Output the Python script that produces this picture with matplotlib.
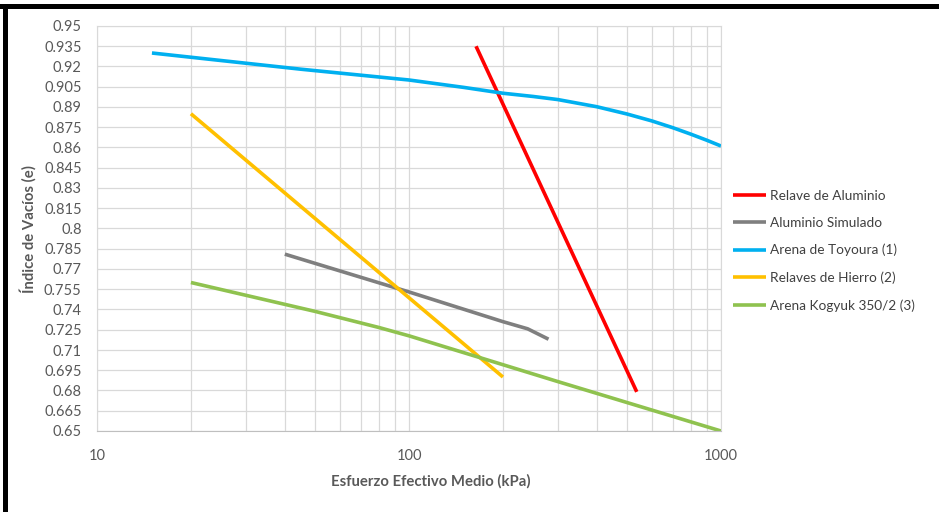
import matplotlib
matplotlib.use("Agg")
import numpy as np
import matplotlib.pyplot as plt
from matplotlib.ticker import LogLocator, FixedLocator, FuncFormatter, NullFormatter
from matplotlib.patches import Rectangle

# ---------- Data ----------
relave_al_x = [164, 537]
relave_al_y = [0.935, 0.679]

al_sim_x = [40, 100, 200, 240, 280]
al_sim_y = [0.781, 0.753, 0.731, 0.7257, 0.718]

toyoura_x = [15, 45, 100, 150, 200, 250, 300, 400, 500, 600, 700, 800, 900, 1000]
toyoura_y = [0.930, 0.918, 0.910, 0.9045, 0.9002, 0.8978, 0.8955, 0.8902, 0.8848,
             0.8797, 0.8747, 0.8699, 0.8654, 0.8611]

hierro_x = [20, 200]
hierro_y = [0.885, 0.690]

kogyuk_x = [20, 50, 80, 100, 300, 1000]
kogyuk_y = [0.760, 0.7386, 0.7267, 0.7205, 0.6866, 0.650]

series = [
    ("Relave de Aluminio", relave_al_x, relave_al_y, "#ff0000"),
    ("Aluminio Simulado", al_sim_x, al_sim_y, "#7f7f7f"),
    ("Arena de Toyoura (1)", toyoura_x, toyoura_y, "#00b0f0"),
    ("Relaves de Hierro (2)", hierro_x, hierro_y, "#ffc000"),
    ("Arena Kogyuk 350/2 (3)", kogyuk_x, kogyuk_y, "#8fc24f"),
]

y_ticks = np.round(np.arange(0.65, 0.9501, 0.015), 3)
x_ticks = [10, 100, 1000]

# ---------- Figure ----------
plt.rcParams["font.family"] = ["Lato", "DejaVu Sans"]
W, H = 939, 512
fig = plt.figure(figsize=(W / 100, H / 100), dpi=100)
ax = fig.add_axes([97 / W, 1 - 431 / H, (721 - 97) / W, (431 - 26) / H])

for name, xs, ys, col in series:
    ax.plot(xs, ys, color=col, lw=2.6, label=name, solid_capstyle="butt",
            solid_joinstyle="round")

ax.set_xscale("log")
ax.set_xlim(10, 1000)
ax.set_ylim(0.65, 0.95)
ax.xaxis.set_major_locator(FixedLocator(x_ticks))
ax.xaxis.set_minor_locator(LogLocator(base=10, subs=np.arange(2, 10)))
ax.xaxis.set_minor_formatter(NullFormatter())
ax.xaxis.set_major_formatter(FuncFormatter(lambda v, p: f"{v:g}"))
ax.yaxis.set_major_locator(FixedLocator(y_ticks))
ax.yaxis.set_major_formatter(FuncFormatter(lambda v, p: f"{v:g}"))

ax.grid(True, which="both", color="#d9d9d9", lw=0.9)
ax.set_axisbelow(True)
ax.tick_params(which="both", length=0, labelsize=10.5, labelcolor="#595959")
ax.tick_params(axis="x", pad=13)
ax.tick_params(axis="y", pad=11)
for s in ax.spines.values():
    s.set_color("#d9d9d9")
ax.spines["bottom"].set_color("#bfbfbf")

fig.text(431 / W, 1 - 481 / H, "Esfuerzo Efectivo Medio (kPa)", ha="center", va="center",
         fontsize=10.7, fontweight="bold", color="#595959")
fig.text(28 / W, 1 - 229 / H, "Índice de Vacíos (e)", ha="center", va="center",
         rotation=90, fontsize=10.7, fontweight="bold", color="#595959")

leg = ax.legend(loc="upper left", bbox_to_anchor=(733 / W, 1 - 190 / H),
                bbox_transform=fig.transFigure, frameon=False, fontsize=9.8,
                handlelength=2.4, handletextpad=0.3, labelspacing=1.1,
                borderpad=0, borderaxespad=0)
for t in leg.get_texts():
    t.set_color("#404040")

# black frame (top and left edges)
fig.add_artist(Rectangle((0, 1 - 9 / H), 1, 5 / H, transform=fig.transFigure,
                         color="black", lw=0))
fig.add_artist(Rectangle((3 / W, 0), 5 / W, 1 - 4 / H, transform=fig.transFigure,
                         color="black", lw=0))

fig.savefig("out.png", dpi=100)
